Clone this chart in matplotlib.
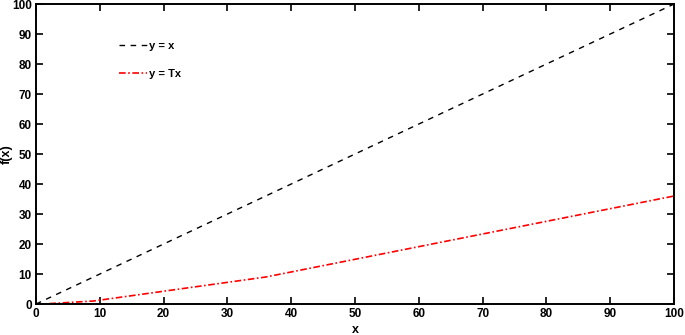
import matplotlib
matplotlib.use("Agg")
import matplotlib.pyplot as plt

# identity line
x_id = [0, 100]
y_id = [0, 100]

# y = Tx
x_t = [0, 1, 9, 36, 100]
y_t = [0, 0, 1, 9, 36]

xticks = [0, 10, 20, 30, 40, 50, 60, 70, 80, 90, 100]
yticks = [0, 10, 20, 30, 40, 50, 60, 70, 80, 90, 100]

plt.rcParams["font.family"] = ["Liberation Sans", "DejaVu Sans"]
plt.rcParams["font.weight"] = "bold"

fig = plt.figure(figsize=(6.85, 3.35), dpi=100)
ax = fig.add_axes([0.0526, 0.0925, 0.9314, 0.8955])

ax.plot(x_id, y_id, color="black", linestyle=(0, (4, 4)), linewidth=1.0, label="y = x")
ax.plot(x_t, y_t, color="red", linestyle=(0, (4, 1.5, 1, 1.5)), linewidth=1.2, label="y = Tx")

ax.set_xlim(0, 100)
ax.set_ylim(0, 100)
ax.set_xticks(xticks)
ax.set_yticks(yticks)
ax.tick_params(direction="in", length=5, width=1.2, top=True, right=True,
               labelsize=8.5, pad=3)
for lab in ax.get_xticklabels() + ax.get_yticklabels():
    lab.set_fontweight("bold")
for s in ax.spines.values():
    s.set_linewidth(1.4)

ax.set_xlabel("x", fontsize=9, fontweight="bold", labelpad=2.5)
ax.set_ylabel("f(x)", fontsize=9, fontweight="bold")
ax.yaxis.set_label_coords(-0.037, 0.5)

leg = ax.legend(loc="upper left", bbox_to_anchor=(0.115, 0.91), frameon=False,
                fontsize=8, handlelength=2.5, handletextpad=0.15, labelspacing=1.6)
for t in leg.get_texts():
    t.set_fontweight("bold")

fig.savefig("out.png", dpi=100)
